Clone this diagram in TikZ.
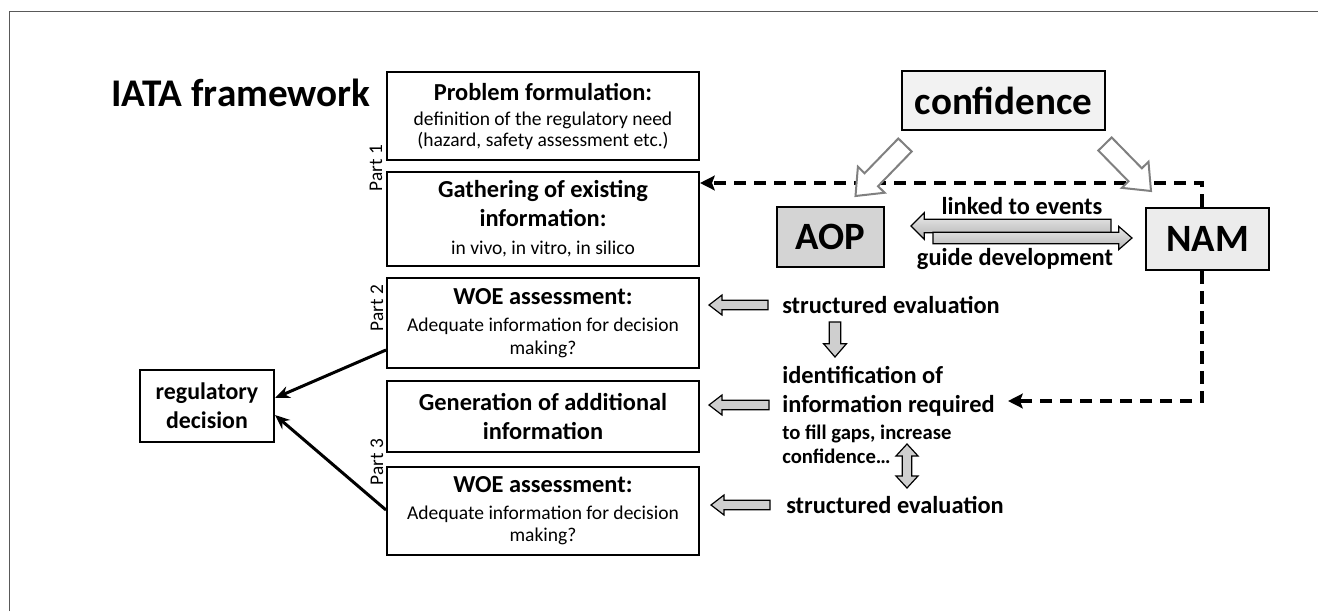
\documentclass[tikz,border=0pt]{standalone}
\usepackage{fontspec}
\setmainfont{Carlito}
\usetikzlibrary{calc,arrows.meta}
\newcommand\tfont{\fontsize{18.3}{21.75}\selectfont\bfseries}
\newcommand\rfont{\fontsize{14.65}{17}\selectfont}
\newcommand\rtfont{\fontsize{18.3}{21.75}\selectfont\bfseries}
\newcommand\smfont{\fontsize{15.5}{18}\selectfont\bfseries}
% single block arrow: [style]{from}{to}{shaft half}{head half}{head length}
\newcommand\blk[6][]{%
 \path[#1] let \p1=(#2), \p2=(#3), \n1={atan2(\y2-\y1,\x2-\x1)} in
 ($(\p1)+(\n1+90:#4)$) -- ($(\p2)+(\n1+180:#6)+(\n1+90:#4)$) -- ($(\p2)+(\n1+180:#6)+(\n1+90:#5)$) -- (\p2) -- ($(\p2)+(\n1+180:#6)+(\n1-90:#5)$) -- ($(\p2)+(\n1+180:#6)+(\n1-90:#4)$) -- ($(\p1)+(\n1-90:#4)$) -- cycle;}
% double block arrow
\newcommand\dblk[6][]{%
 \path[#1] let \p1=(#2), \p2=(#3), \n1={atan2(\y2-\y1,\x2-\x1)} in
 (\p1) -- ($(\p1)+(\n1:#6)+(\n1+90:#5)$) -- ($(\p1)+(\n1:#6)+(\n1+90:#4)$) -- ($(\p2)+(\n1+180:#6)+(\n1+90:#4)$) -- ($(\p2)+(\n1+180:#6)+(\n1+90:#5)$) -- (\p2) -- ($(\p2)+(\n1+180:#6)+(\n1-90:#5)$) -- ($(\p2)+(\n1+180:#6)+(\n1-90:#4)$) -- ($(\p1)+(\n1:#6)+(\n1-90:#4)$) -- ($(\p1)+(\n1:#6)+(\n1-90:#5)$) -- cycle;}
\begin{document}
\begin{tikzpicture}[x=0.75pt,y=-0.75pt,
  box/.style={draw=black, line width=1.5pt, fill=white, align=center, inner sep=0pt},
  txt/.style={inner sep=0pt},
  partlbl/.style={inner sep=0pt, rotate=90, font=\fontsize{14.5}{16}\selectfont},
  graybk/.style={fill=gray!38, draw=black, line width=0.9pt},
  hollow/.style={fill=white, draw=gray, line width=1.5pt},
  shadebk/.style={top color=gray!15, bottom color=gray!60, draw=black, line width=0.9pt},
  dashline/.style={line width=3pt, dash pattern=on 9.5pt off 5.5pt, -{Stealth[length=11pt,width=11pt,inset=2pt]}},
  decarrow/.style={line width=2.25pt, -{Stealth[length=11pt,width=9pt]}}
]
\useasboundingbox (0,0) rectangle (1318,611);
\draw[black!65, line width=0.75pt] (9,611) -- (9,11) -- (1318,11);

\node[txt, font=\fontsize{29.4}{32}\selectfont\bfseries] (title) at (241,93) {IATA framework};

\node[box, minimum width=234pt, minimum height=66pt, font=\fontsize{14.65}{15.75}\selectfont] (prob) at (543,116)
 {\tfont Problem formulation:\\[3pt] \rfont definition of the regulatory need\\ \rfont (hazard, safety assessment etc.)};
\node[box, minimum width=234pt, minimum height=70.5pt, font=\fontsize{14.65}{21.4}\selectfont] (gath) at (543,219)
 {\tfont Gathering of existing\\ \tfont information:\\ \rfont in vivo, in vitro, in silico};
\node[box, minimum width=234pt, minimum height=67.5pt, font=\fontsize{14.65}{17}\selectfont] (woe1) at (543,323)
 {\tfont WOE assessment:\\[3.5pt] \rfont Adequate information for decision\\ \rfont making?};
\node[box, minimum width=234pt, minimum height=53.25pt, font=\fontsize{14.65}{21.75}\selectfont] (gen) at (543,416.5)
 {\tfont Generation of additional\\ \tfont information};
\node[box, minimum width=234pt, minimum height=66pt, font=\fontsize{14.65}{17}\selectfont] (woe2) at (543,511)
 {\tfont WOE assessment:\\[3pt] \rfont Adequate information for decision\\ \rfont making?};
\node[box, minimum width=100.5pt, minimum height=54pt, font=\fontsize{17.9}{21.75}\selectfont\bfseries] (reg) at (207,406)
 {regulatory\\ decision};

\node[partlbl] (p1) at (376,168) {Part 1};
\node[partlbl] (p2) at (377,308) {Part 2};
\node[partlbl] (p3) at (377,462) {Part 3};

\node[box, fill=gray!10, minimum width=152.25pt, minimum height=44.25pt,
  font=\fontsize{29.3}{32}\selectfont\bfseries] (conf) at (1003.5,100.5) {confidence};
\node[box, fill=gray!34, minimum width=80.25pt, minimum height=45pt,
  font=\fontsize{29}{32}\selectfont\bfseries] (aop) at (830.5,237) {AOP};
\node[box, fill=gray!15, minimum width=92.25pt, minimum height=46.5pt,
  font=\fontsize{29}{32}\selectfont\bfseries] (nam) at (1207.5,239) {NAM};

\node[txt, font=\fontsize{18.3}{20}\selectfont\bfseries] (lte) at (1022,206) {linked to events};
\node[txt, font=\fontsize{18.3}{20}\selectfont\bfseries] (gdv) at (1015,259) {guide development};

\node[txt, anchor=west, font=\rtfont] (se1) at (782,305) {structured evaluation};
\node[txt, anchor=north west, align=left, font=\fontsize{15.5}{18}\selectfont] (idf) at (782,366)
 {\rtfont identification of\\[3.75pt] \rtfont information required\\[2.25pt] \smfont to fill gaps, increase\\ \smfont confidence\ldots};
\node[txt, anchor=west, font=\rtfont] (se2) at (786,505) {structured evaluation};

% dashed connectors from NAM
\coordinate (nt) at ([xshift=-4pt]nam.north);
\coordinate (nb) at ([xshift=-4pt]nam.south);
\coordinate (ntc) at (nt |- 0,183);
\coordinate (nbc) at (nb |- 0,401);
\coordinate (idtip) at (1008,401);
\draw[dashline] (nt) -- (ntc) -- (gath.east |- ntc);
\draw[dashline] (nb) -- (nbc) -- (idtip);

% hollow arrows from confidence
\blk[hollow]{$(conf.south west)+(4,14)$}{$(aop.north)+(25,-10)$}{7pt}{14pt}{17pt}
\blk[hollow]{$(conf.south east)+(-1,13)$}{$(nam.north west)+(6,-16)$}{7pt}{14pt}{17pt}

% AOP <-> NAM
\blk[shadebk]{$(nam.west)+(-34,-13)$}{$(aop.east)+(26,-11)$}{5pt}{10pt}{10pt}
\blk[shadebk]{$(aop.east)+(48,1)$}{$(nam.west)+(-13,-1)$}{4.25pt}{8.75pt}{10pt}

% gray block arrows
\blk[graybk]{$(se1.west)+(-14,0)$}{$(woe1.east)+(9,-18)$}{3.6pt}{7.5pt}{9.75pt}
\blk[graybk]{$(gen.east)+(69,-11.5)$}{$(gen.east)+(9,-11.5)$}{3.6pt}{7.5pt}{9.75pt}
\blk[graybk]{$(se2.west)+(-16,0)$}{$(woe2.east)+(11,-6)$}{3.6pt}{7.5pt}{9.75pt}
\blk[graybk]{$(se1.west)+(53,17)$}{$(se1.west)+(53,52)$}{4.25pt}{8.6pt}{10pt}
\dblk[graybk]{$(se2.west)+(121,-61)$}{$(se2.west)+(121,-17)$}{3.6pt}{8.25pt}{9pt}

% to regulatory decision
\draw[decarrow] ([yshift=14.25pt]woe1.south west) -- ([yshift=6pt]reg.east);
\draw[decarrow] ([yshift=0.75pt]woe2.west) -- ([yshift=-6.75pt]reg.east);
\end{tikzpicture}
\end{document}
